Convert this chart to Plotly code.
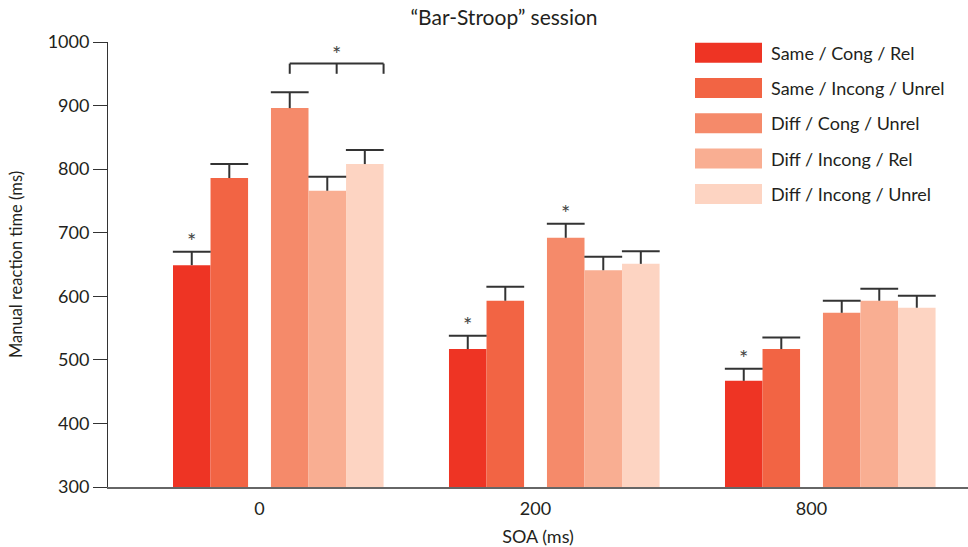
import plotly.graph_objects as go

# ---------------- data ----------------
soa_labels = ["0", "200", "800"]
series_names = [
    "Same / Cong / Rel",
    "Same / Incong / Unrel",
    "Diff / Cong / Unrel",
    "Diff / Incong / Rel",
    "Diff / Incong / Unrel",
]
same_cong_rel = [649, 517, 467]
same_incong_unrel = [786, 593, 517]
diff_cong_unrel = [896, 692, 574]
diff_incong_rel = [766, 641, 593]
diff_incong_unrel = [808, 651, 582]

err_same_cong_rel = [21, 21, 19]
err_same_incong_unrel = [22, 22, 18]
err_diff_cong_unrel = [25, 22, 19]
err_diff_incong_rel = [22, 21, 19]
err_diff_incong_unrel = [22, 20, 19]

# significance stars: (SOA index, series index)
star_marks = [(0, 0), (1, 0), (1, 2), (2, 0)]
# bracket over SOA 0, series 2..4
bracket_group = 0
bracket_series = (2, 4)

values = [same_cong_rel, same_incong_unrel, diff_cong_unrel, diff_incong_rel, diff_incong_unrel]
errors = [err_same_cong_rel, err_same_incong_unrel, err_diff_cong_unrel,
          err_diff_incong_rel, err_diff_incong_unrel]

# ---------------- style ----------------
colors = ["#EE3424", "#F26444", "#F58A6A", "#F9AE92", "#FDD4C2"]
FONT = "Lato, 'Open Sans', sans-serif"
TXT = "#231F20"
W, H = 968, 547
ML, MR, MT, MB = 108, 0, 42, 60
bw = 0.136          # bar width (category units)
gap = 0.083         # gap between 2nd and 3rd bar
o2 = gap / 2 + bw / 2
offsets = [-o2 - bw, -o2, o2, o2 + bw, o2 + 2 * bw]

fig = go.Figure()

for s in range(len(values)):
    xs = [g + offsets[s] for g in range(len(soa_labels))]
    fig.add_trace(go.Bar(
        x=xs, y=values[s], width=bw, name=series_names[s],
        marker=dict(color=colors[s], line=dict(width=0)),
        error_y=dict(type="data", symmetric=False, array=errors[s],
                     arrayminus=[0] * len(errors[s]), width=0,
                     thickness=2, color="#333333"),
        showlegend=False, hoverinfo="skip",
    ))
    # caps on the top end only
    fig.add_trace(go.Scatter(
        x=xs, y=[v + e for v, e in zip(values[s], errors[s])], mode="markers",
        marker=dict(symbol="line-ew", size=27, color="#333333",
                    line=dict(width=2, color="#333333")),
        showlegend=False, hoverinfo="skip",
    ))

annotations = []
shapes = []
STAR_FONT = dict(family=FONT, size=22, color="#444444")

# stars above error bars
for g, s in star_marks:
    annotations.append(dict(
        x=g + offsets[s], y=values[s][g] + errors[s][g], xref="x", yref="y",
        text="*", showarrow=False, yanchor="middle", yshift=11, font=STAR_FONT,
    ))

# bracket
s0, s1 = bracket_series
bx0 = bracket_group + offsets[s0]
bx1 = bracket_group + offsets[s1] + bw / 2
tops = [values[s][bracket_group] + errors[s][bracket_group] for s in range(s0, s1 + 1)]
by = max(tops) + 45
tick = 16
line_style = dict(color="#333333", width=2)
shapes.append(dict(type="line", xref="x", yref="y", x0=bx0, x1=bx1, y0=by, y1=by, line=line_style))
for xx in (bx0, (bx0 + bx1) / 2, bx1):
    shapes.append(dict(type="line", xref="x", yref="y", x0=xx, x1=xx, y0=by, y1=by - tick, line=line_style))
annotations.append(dict(
    x=(bx0 + bx1) / 2, y=by, xref="x", yref="y", text="*", showarrow=False,
    yanchor="middle", yshift=10, font=STAR_FONT,
))

# custom legend (pixel layout converted to paper coords)
pw, ph = W - ML - MR, H - MT - MB


def px(xp):
    return (xp - ML) / pw


def py(yp):
    return (H - MB - yp) / ph


for i, name in enumerate(series_names):
    yc = 52.7 + i * 35.3
    shapes.append(dict(type="rect", xref="paper", yref="paper",
                       x0=px(695), x1=px(762), y0=py(yc + 10), y1=py(yc - 10),
                       fillcolor=colors[i], line=dict(width=0)))
    annotations.append(dict(x=px(769), y=py(yc), xref="paper", yref="paper",
                            text=name, showarrow=False, xanchor="left", yanchor="middle",
                            font=dict(family=FONT, size=18, color=TXT)))

fig.update_layout(
    width=W, height=H,
    margin=dict(l=ML, r=MR, t=MT, b=MB),
    paper_bgcolor="white", plot_bgcolor="white",
    barmode="overlay",
    font=dict(family=FONT, size=18, color=TXT),
    title=dict(text="“Bar-Stroop” session", x=504 / W, xanchor="center",
               xref="container", y=1 - 18 / H, yanchor="middle", yref="container",
               font=dict(family=FONT, size=21, color=TXT)),
    xaxis=dict(range=[-0.549, 2.567], tickmode="array", tickvals=list(range(len(soa_labels))),
               ticktext=soa_labels, showgrid=False, zeroline=False,
               showline=True, linecolor="#666666", linewidth=2, ticks="",
               ticklabelstandoff=4,
               tickfont=dict(family=FONT, size=18, color=TXT),
               title=dict(text="SOA (ms)", font=dict(family=FONT, size=18, color=TXT), standoff=16)),
    yaxis=dict(range=[300, 1000], tickmode="linear", tick0=300, dtick=100,
               showgrid=False, zeroline=False, showline=True, linecolor="#333333", linewidth=1,
               ticks="outside", ticklen=14, tickwidth=1, tickcolor="#333333",
               tickfont=dict(family=FONT, size=18, color=TXT),
               title=dict(text="Manual reaction time (ms)",
                          font=dict(family=FONT, size=16.5, color=TXT), standoff=20)),
    shapes=shapes, annotations=annotations,
)

fig.write_html("out.html", config={"displayModeBar": False},
               post_script="document.body.style.margin='0';")
